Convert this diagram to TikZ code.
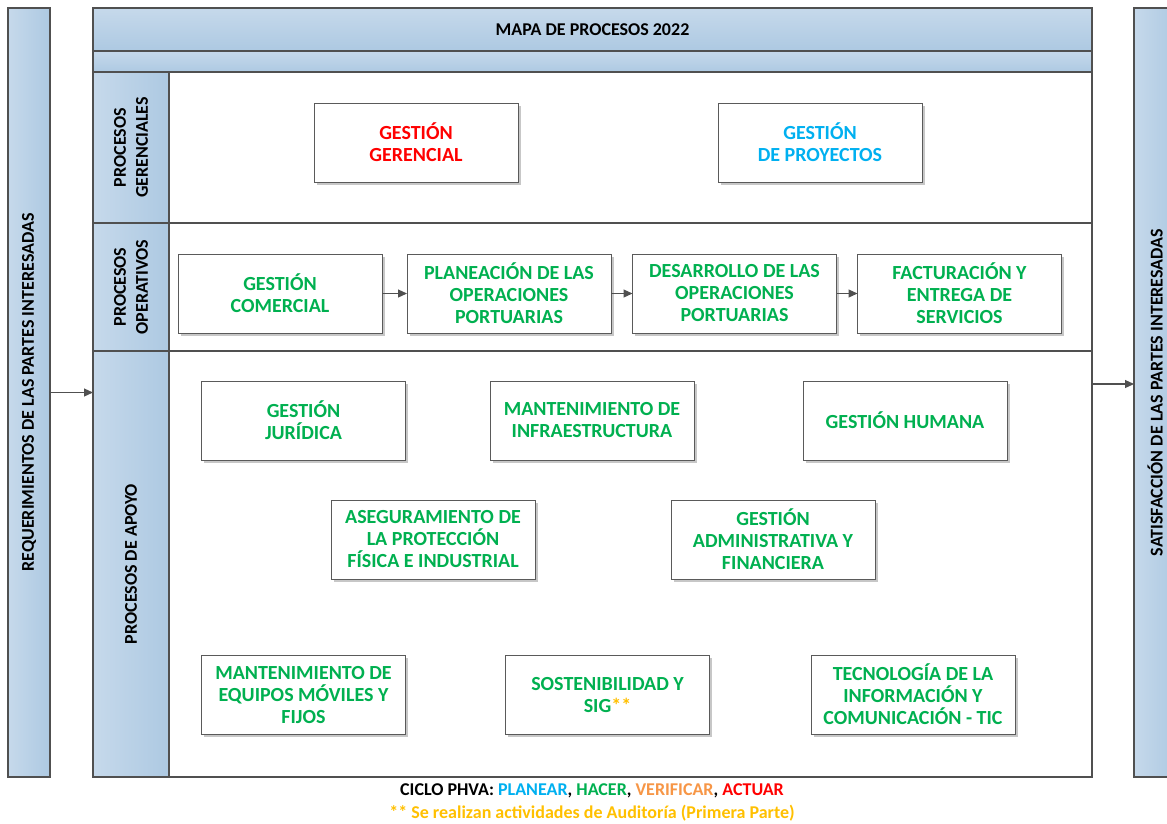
\documentclass[tikz,border=0pt]{standalone}
\usepackage{fontspec}
\setmainfont{Carlito}
\usetikzlibrary{arrows.meta,shadows}
\definecolor{lineC}{HTML}{505050}
\definecolor{boxLine}{HTML}{5A5A5A}
\definecolor{barLight}{HTML}{C6D9EB}
\definecolor{barDark}{HTML}{ADC9E2}
\definecolor{cBlue}{HTML}{00B0F0}
\definecolor{cGreen}{HTML}{00B050}
\definecolor{cOrange}{HTML}{F79646}
\definecolor{cRed}{HTML}{FF0000}
\definecolor{cGold}{HTML}{FFC000}
\tikzset{
  txt/.style={font=\bfseries\fontsize{18}{22}\selectfont},
  procbox/.style={font=\bfseries\fontsize{20}{22}\selectfont, draw=boxLine, line width=1pt, fill=white, minimum width=204, minimum height=79,
    align=center, inner sep=2pt, outer sep=0pt,
    drop shadow={shadow xshift=2.5pt, shadow yshift=-2.5pt, fill=black!22, opacity=1}},
  barH/.style={draw=lineC, line width=1.3pt, top color=barLight, bottom color=barDark, outer sep=0pt, inner sep=0pt},
  barV/.style={draw=lineC, line width=1.3pt, left color=barLight, right color=barDark, outer sep=0pt, inner sep=0pt},
  arr/.style={draw=lineC, line width=1.1pt, -{Triangle[length=9pt,width=8pt]}},
}
\begin{document}
\begin{tikzpicture}[x=1pt,y=-1pt]
\clip (0,0) rectangle (1167,823);
\fill[white] (0,0) rectangle (1167,823);

% outer bars
\node[barV, minimum width=42, minimum height=769] (req) at (29,392.5) {};
\node[txt, rotate=90] (reqtxt) at (req.center) {REQUERIMIENTOS DE LAS PARTES INTERESADAS};
\node[barV, minimum width=42, minimum height=769] (sat) at (1155,392.5) {};
\node[txt, rotate=90] (sattxt) at (sat.center) {SATISFACCIÓN DE LAS PARTES INTERESADAS};

% main frame
\node[draw=lineC, line width=1.3pt, fill=white, minimum width=999, minimum height=769, outer sep=0pt] (frame) at (592.5,392.5) {};
\node[barH, minimum width=999, minimum height=43] (hdr) at (592.5,29.5) {};
\node[txt] (hdrtxt) at (hdr.center) {MAPA DE PROCESOS 2022};
\node[barH, minimum width=999, minimum height=21] (band) at (592.5,61.5) {};

% row labels
\node[barV, minimum width=76, minimum height=151] (lg) at (131,147.5) {};
\node[txt, rotate=90, align=center] (lgtxt) at (lg.center) {PROCESOS\\GERENCIALES};
\node[barV, minimum width=76, minimum height=128] (lo) at (131,287) {};
\node[txt, rotate=90, align=center] (lotxt) at (lo.center) {PROCESOS\\OPERATIVOS};
\node[barV, minimum width=76, minimum height=426] (la) at (131,564) {};
\node[txt, rotate=90] (latxt) at (la.center) {PROCESOS DE APOYO};

\draw[lineC, line width=1.3pt] (lg.south east) -- (lg.south east -| frame.east);
\draw[lineC, line width=1.3pt] (lo.south east) -- (lo.south east -| frame.east);

% gerenciales
\node[procbox, text=cRed] (gg) at (416,142.5) {GESTIÓN\\GERENCIAL};
\node[procbox, text=cBlue] (gp) at (820,142.5) {GESTIÓN\\DE PROYECTOS};

% operativos
\node[procbox, text=cGreen] (gc) at (280,293.5) {GESTIÓN\\COMERCIAL};
\node[procbox, text=cGreen] (po) at (509,293.5) {PLANEACIÓN DE LAS\\OPERACIONES\\PORTUARIAS};
\node[procbox, text=cGreen] (dop) at (734.5,293.5) {DESARROLLO DE LAS\\OPERACIONES\\PORTUARIAS};
\node[procbox, text=cGreen] (fe) at (959.5,293.5) {FACTURACIÓN Y\\ENTREGA DE\\SERVICIOS};
\draw[arr] (gc) -- (po);
\draw[arr] (po) -- (dop);
\draw[arr] (dop) -- (fe);

% apoyo
\node[procbox, text=cGreen] (gj) at (303.5,420.5) {GESTIÓN\\JURÍDICA};
\node[procbox, text=cGreen] (mi) at (592,420.5) {MANTENIMIENTO DE\\INFRAESTRUCTURA};
\node[procbox, text=cGreen] (gh) at (905,420.5) {GESTIÓN HUMANA};
\node[procbox, text=cGreen] (ap) at (433,539.5) {ASEGURAMIENTO DE\\LA PROTECCIÓN\\FÍSICA E INDUSTRIAL};
\node[procbox, text=cGreen] (ga) at (773,539.5) {GESTIÓN\\ADMINISTRATIVA Y\\FINANCIERA};
\node[procbox, text=cGreen] (me) at (303.5,694.5) {MANTENIMIENTO DE\\EQUIPOS MÓVILES Y\\FIJOS};
\node[procbox, text=cGreen] (ss) at (607.5,694.5) {SOSTENIBILIDAD Y\\SIG\textcolor{cGold}{**}};
\node[procbox, text=cGreen] (tic) at (913,694.5) {TECNOLOGÍA DE LA\\INFORMACIÓN Y\\COMUNICACIÓN - TIC};

% side arrows
\draw[arr] (req.east) -- (frame.west);
\draw[arr] ([yshift=8.5pt]frame.east) -- ([yshift=8.5pt]sat.west);

% legend
\node[txt] (ciclo) at (592,791) {CICLO PHVA: \textcolor{cBlue}{PLANEAR}, \textcolor{cGreen}{HACER}, \textcolor{cOrange}{VERIFICAR}, \textcolor{cRed}{ACTUAR}};
\node[txt, text=cGold] (nota) at (592,813) {** Se realizan actividades de Auditoría (Primera Parte)};
\end{tikzpicture}
\end{document}
